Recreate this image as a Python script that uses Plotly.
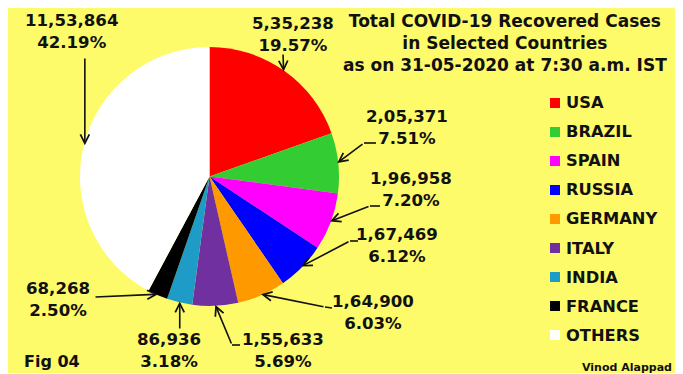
import math
import plotly.graph_objects as go

# ---------------- data ----------------
countries = ["USA", "BRAZIL", "SPAIN", "RUSSIA", "GERMANY", "ITALY", "INDIA", "FRANCE", "OTHERS"]
recovered = [535238, 205371, 196958, 167469, 164900, 155633, 86936, 68268, 1153864]
colors = ["#FF0000", "#33CC33", "#FF00FF", "#0000FF", "#FF9900", "#7030A0", "#1F9BC8", "#000000", "#FFFFFF"]
title_lines = ["Total COVID-19 Recovered Cases", "in Selected Countries", "as on 31-05-2020 at 7:30 a.m. IST"]
fig_label = "Fig 04"
author = "Vinod Alappad"

# ---------------- layout helpers ----------------
# the page puts the figure 8px from the top-left corner of the window
OFF = 8
W, H = 672, 365
BG = "#FDFB6A"
INK = "#111111"
FONT = "DejaVu Sans"


def px(x):
    return (x - OFF) / W


def py(y):
    return 1 - (y - OFF) / H


def indian(n):
    s = str(n)
    if len(s) <= 3:
        return s
    head, tail = s[:-3], s[-3:]
    parts = []
    while len(head) > 2:
        parts.insert(0, head[-2:])
        head = head[:-2]
    if head:
        parts.insert(0, head)
    return ",".join(parts + [tail])


# pie geometry (window pixels)
CX, CY, R = 209.5, 176.5, 129.5

# label placement: text centre and leader-line points (tail ... elbow), window pixels
label_layout = {
    "USA":     dict(text=(293, 34),  path=[(283, 53)]),
    "BRAZIL":  dict(text=(407, 127), path=[(376, 143), (364, 143)]),
    "SPAIN":   dict(text=(411, 190), path=[(380, 206), (370, 206)]),
    "RUSSIA":  dict(text=(397, 245), path=[(358, 241), (350, 241)]),
    "GERMANY": dict(text=(373, 312), path=[(332, 308), (325, 307)]),
    "ITALY":   dict(text=(283, 350), path=[(240, 345), (232, 345)]),
    "INDIA":   dict(text=(169, 350), path=[(None, 330)]),
    "FRANCE":  dict(text=(58, 299),  path=[(94, 297)]),
    "OTHERS":  dict(text=(71, 32),   path=[(None, 57)]),
}

total = sum(recovered)

fig = go.Figure()
fig.add_trace(go.Pie(
    labels=countries,
    values=recovered,
    marker=dict(colors=colors, line=dict(width=0)),
    sort=False,
    direction="clockwise",
    rotation=0,
    textinfo="none",
    hoverinfo="label+value+percent",
    showlegend=False,
    domain=dict(x=[px(CX - R), px(CX + R)], y=[py(CY + R), py(CY - R)]),
))

annotations = []
shapes = []

cum = 0
for name, val in zip(countries, recovered):
    mid = (cum + val / 2) / total
    cum += val
    theta = 2 * math.pi * mid
    tipx = CX + (R - 1) * math.sin(theta)
    tipy = CY - (R - 1) * math.cos(theta)
    lay = label_layout[name]
    pts = [(tipx if x is None else x, y) for x, y in lay["path"]]
    pct = 100 * val / total
    annotations.append(dict(
        x=px(lay["text"][0]), y=py(lay["text"][1]), xref="paper", yref="paper",
        text=f"<b>{indian(val)}<br>{pct:.2f}%</b>", showarrow=False,
        xanchor="center", yanchor="middle", align="center",
        font=dict(family=FONT, size=16.6, color=INK)))
    if len(pts) > 1:
        d = "M " + " L ".join(f"{px(x)},{py(y)}" for x, y in pts)
        shapes.append(dict(type="path", xref="paper", yref="paper", path=d,
                           line=dict(color=INK, width=1.6)))
    lx, ly = pts[-1]
    annotations.append(dict(
        x=px(tipx), y=py(tipy), xref="paper", yref="paper",
        ax=lx - tipx, ay=ly - tipy, axref="pixel", ayref="pixel",
        text="", showarrow=True, arrowhead=5, arrowsize=1.1, arrowwidth=1.6,
        arrowcolor=INK, standoff=0, startstandoff=0))

# title
annotations.append(dict(
    x=px(505), y=py(43.5), xref="paper", yref="paper",
    text="<b>" + "<br>".join(title_lines) + "</b>", showarrow=False,
    xanchor="center", yanchor="middle", align="center",
    font=dict(family=FONT, size=17, color=INK)))

# legend
for i, (name, col) in enumerate(zip(countries, colors)):
    yc = 103 + 29 * i
    shapes.append(dict(type="rect", xref="paper", yref="paper",
                       x0=px(550), x1=px(560), y0=py(yc + 5), y1=py(yc - 5),
                       fillcolor=col, line=dict(width=0)))
    annotations.append(dict(
        x=px(564), y=py(yc), xref="paper", yref="paper",
        text=f"<b>{name}</b>", showarrow=False, xanchor="left", yanchor="middle",
        font=dict(family=FONT, size=16.3, color=INK)))

annotations.append(dict(
    x=px(22), y=py(361), xref="paper", yref="paper", text=f"<b>{fig_label}</b>",
    showarrow=False, xanchor="left", yanchor="middle",
    font=dict(family=FONT, size=16, color=INK)))
annotations.append(dict(
    x=px(674), y=py(367), xref="paper", yref="paper", text=f"<b>{author}</b>",
    showarrow=False, xanchor="right", yanchor="middle",
    font=dict(family=FONT, size=11, color=INK)))

fig.update_layout(
    width=W, height=H, autosize=False,
    margin=dict(l=0, r=0, t=0, b=0),
    paper_bgcolor=BG, plot_bgcolor=BG,
    shapes=shapes, annotations=annotations,
)

fig.write_html("out.html")
